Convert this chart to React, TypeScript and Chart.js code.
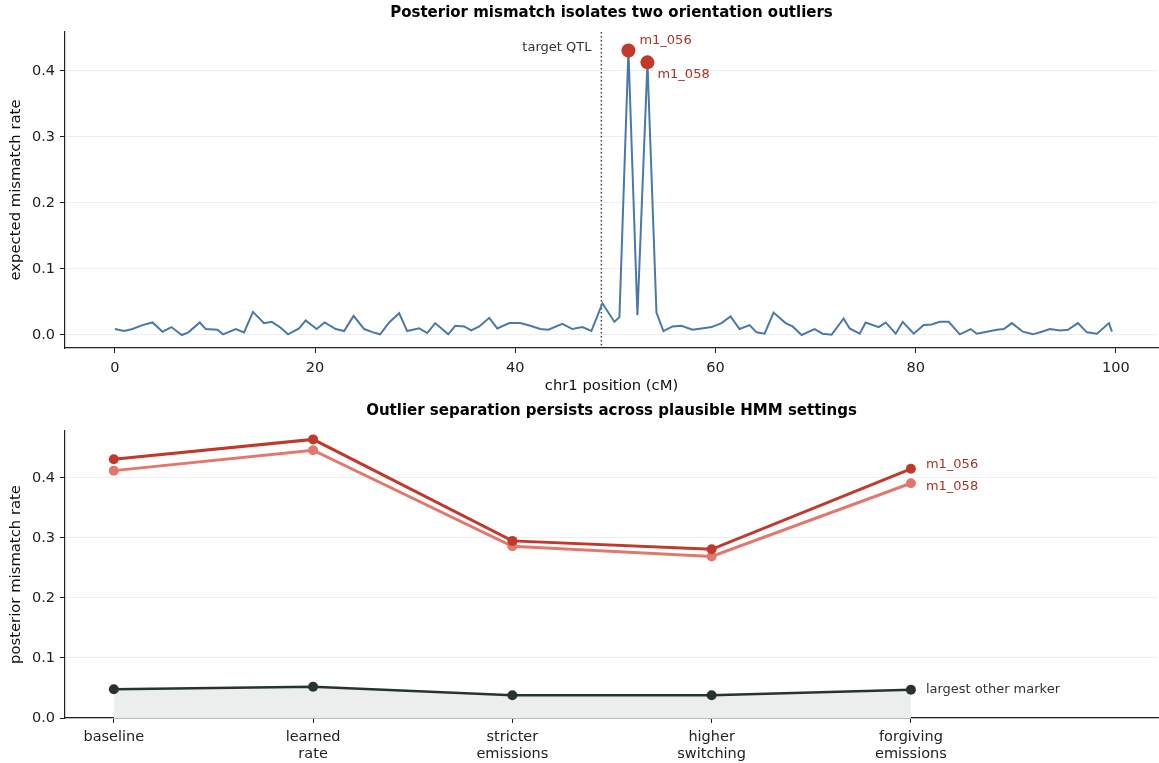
import React, { useEffect, useRef } from 'react';
import { Chart, registerables } from 'chart.js';

Chart.register(...registerables);

const FONT = '"DejaVu Sans", "Liberation Sans", sans-serif';

// ---------- Top panel data: chr1 marker positions (cM) and expected mismatch rate ----------
const positionsCM = [
  0, 0.93, 1.76, 2.76, 3.76, 4.76, 5.65, 6.68, 7.35, 8.48, 9.08, 10.25, 10.8, 12.08, 12.9, 13.8, 14.9, 15.67, 16.57, 17.3,
  18.4, 19.06, 20.16, 20.96, 22.06, 22.9, 23.85, 24.9, 25.8, 26.5, 27.4, 28.4, 29.2, 30.4, 31.2, 32.0, 33.3, 34.0, 34.9, 35.6,
  36.4, 37.4, 38.2, 39.4, 40.5, 41.5, 42.5, 43.3, 44.7, 45.7, 46.7, 47.6, 48.7, 49.9, 50.4, 51.3, 52.2, 53.2, 54.1, 54.8,
  55.7, 56.6, 57.7, 58.6, 59.6, 60.6, 61.5, 62.4, 63.4, 64.1, 64.9, 65.8, 67.0, 67.7, 68.6, 69.9, 70.7, 71.6, 72.8, 73.4,
  74.4, 75.0, 76.3, 77.0, 78.0, 78.7, 79.8, 80.8, 81.6, 82.4, 83.3, 84.4, 85.5, 86.1, 87.1, 88.1, 88.8, 89.6, 90.7, 91.7,
  92.6, 93.4, 94.4, 95.2, 96.2, 97.1, 98.1, 99.3, 99.6,
];
const mismatchRates = [
  0.009, 0.006, 0.009, 0.015, 0.019, 0.005, 0.012, 0.0, 0.004, 0.019, 0.009, 0.008, 0.001, 0.009, 0.004, 0.035, 0.018, 0.020, 0.011, 0.001,
  0.010, 0.022, 0.009, 0.019, 0.009, 0.006, 0.029, 0.009, 0.004, 0.001, 0.019, 0.033, 0.006, 0.010, 0.003, 0.018, 0.001, 0.014, 0.013, 0.007,
  0.013, 0.026, 0.010, 0.018, 0.018, 0.014, 0.009, 0.008, 0.017, 0.009, 0.012, 0.006, 0.048, 0.020, 0.027, 0.431, 0.030, 0.413, 0.034, 0.006,
  0.013, 0.014, 0.008, 0.010, 0.012, 0.018, 0.028, 0.009, 0.015, 0.004, 0.002, 0.034, 0.018, 0.013, 0.0, 0.009, 0.002, 0.0005, 0.025, 0.010,
  0.002, 0.019, 0.012, 0.019, 0.002, 0.020, 0.002, 0.015, 0.016, 0.020, 0.020, 0.001, 0.009, 0.002, 0.005, 0.008, 0.009, 0.018, 0.005, 0.001,
  0.005, 0.009, 0.007, 0.008, 0.018, 0.004, 0.002, 0.018, 0.005,
];
const outlierNames = ['m1_056', 'm1_058'];
const outlierIndices = [55, 57];
const targetQTL = 48.6;
const topXTicks = [0, 20, 40, 60, 80, 100];
const topYTicks = [0, 0.1, 0.2, 0.3, 0.4];

// ---------- Bottom panel data: HMM settings sensitivity ----------
const settingLabels = [['baseline'], ['learned', 'rate'], ['stricter', 'emissions'], ['higher', 'switching'], ['forgiving', 'emissions']];
const m1_056Rates = [0.431, 0.464, 0.295, 0.281, 0.415];
const m1_058Rates = [0.412, 0.446, 0.286, 0.269, 0.391];
const largestOtherRates = [0.048, 0.052, 0.038, 0.038, 0.047];
const bottomYTicks = [0, 0.1, 0.2, 0.3, 0.4];

const W = 1159;
const TOP_H = 395;
const BOT_H = 368;

const AXIS = '#222222';
const GRID = '#eeeeee';

const fitX = (h: number) => (s: any) => { s.height = h; s.paddingLeft = 0; s.paddingRight = 0; };
const fitY = (w: number) => (s: any) => { s.width = w; s.paddingTop = 0; s.paddingBottom = 0; };

function TopChart() {
  const ref = useRef<HTMLCanvasElement | null>(null);
  useEffect(() => {
    const textPlugin = {
      id: 'topText',
      beforeDatasetsDraw(chart: any) {
        const { ctx, chartArea } = chart;
        const xs = chart.scales.x;
        const px = xs.getPixelForValue(targetQTL);
        ctx.save();
        ctx.strokeStyle = '#444444';
        ctx.lineWidth = 1.5;
        ctx.setLineDash([1.5, 2.5]);
        ctx.beginPath();
        ctx.moveTo(px, chartArea.top);
        ctx.lineTo(px, chartArea.bottom);
        ctx.stroke();
        ctx.restore();
      },
      afterDraw(chart: any) {
        const { ctx, chartArea } = chart;
        const xs = chart.scales.x;
        const ys = chart.scales.y;
        ctx.save();
        ctx.fillStyle = '#000';
        ctx.font = `bold 15px ${FONT}`;
        ctx.textAlign = 'center';
        ctx.textBaseline = 'middle';
        const cx = (chartArea.left + chartArea.right) / 2;
        ctx.fillText('Posterior mismatch isolates two orientation outliers', cx, 13);
        ctx.font = `14.8px ${FONT}`;
        ctx.fillStyle = '#111';
        ctx.fillText('chr1 position (cM)', cx, 386);
        ctx.save();
        ctx.translate(16, (chartArea.top + chartArea.bottom) / 2);
        ctx.rotate(-Math.PI / 2);
        ctx.fillText('expected mismatch rate', 0, 0);
        ctx.restore();
        const qx = xs.getPixelForValue(targetQTL);
        ctx.font = `13px ${FONT}`;
        ctx.fillStyle = '#333';
        ctx.textAlign = 'right';
        ctx.fillText('target QTL', qx - 10, 48);
        ctx.fillStyle = '#a93226';
        ctx.textAlign = 'left';
        const offs = [[11, -10], [10, 12]];
        outlierIndices.forEach((idx, k) => {
          const x = xs.getPixelForValue(positionsCM[idx]);
          const y = ys.getPixelForValue(mismatchRates[idx]);
          ctx.fillText(outlierNames[k], x + offs[k][0], y + offs[k][1]);
        });
        ctx.restore();
      },
    };

    const chart = new Chart(ref.current as HTMLCanvasElement, {
      type: 'line',
      data: {
        datasets: [
          {
            data: outlierIndices.map((i) => ({ x: positionsCM[i], y: mismatchRates[i] })),
            showLine: false,
            pointRadius: 7,
            pointBackgroundColor: '#c0392b',
            pointBorderWidth: 0,
            order: 0,
          } as any,
          {
            data: positionsCM.map((x, i) => ({ x, y: mismatchRates[i] })),
            borderColor: '#4a78a8',
            borderWidth: 2,
            pointRadius: 0,
            tension: 0,
            order: 1,
          },
        ],
      },
      options: {
        responsive: false,
        animation: false,
        devicePixelRatio: 1,
        layout: { autoPadding: false, padding: { top: 32, right: 1, left: 0, bottom: 0 } },
        plugins: { legend: { display: false }, tooltip: { enabled: false }, title: { display: false } },
        scales: {
          x: {
            type: 'linear',
            min: -4.98,
            max: 104.2,
            afterBuildTicks: (s: any) => { s.ticks = topXTicks.map((v) => ({ value: v })); },
            afterFit: fitX(47),
            ticks: { font: { family: FONT, size: 14.5 }, color: AXIS, padding: 7, maxRotation: 0, callback: (v: any) => String(v) },
            grid: { drawOnChartArea: false, drawTicks: true, tickLength: 5, tickColor: AXIS, tickWidth: 1 },
            border: { display: true, color: AXIS, width: 1.2 },
          },
          y: {
            type: 'linear',
            min: -0.0197,
            max: 0.459,
            afterBuildTicks: (s: any) => { s.ticks = topYTicks.map((v) => ({ value: v })); },
            afterFit: fitY(65),
            ticks: { font: { family: FONT, size: 14.5 }, color: AXIS, padding: 5, callback: (v: any) => Number(v).toFixed(1) },
            grid: { color: GRID, lineWidth: 1, drawTicks: true, tickLength: 5, tickColor: AXIS },
            border: { display: true, color: AXIS, width: 1.2 },
          },
        },
      } as any,
      plugins: [textPlugin],
    });
    return () => chart.destroy();
  }, []);
  return <canvas ref={ref} width={W} height={TOP_H} style={{ position: 'absolute', left: 0, top: 0, width: W, height: TOP_H }} />;
}

function BottomChart() {
  const ref = useRef<HTMLCanvasElement | null>(null);
  useEffect(() => {
    const textPlugin = {
      id: 'bottomText',
      afterDraw(chart: any) {
        const { ctx, chartArea } = chart;
        const xs = chart.scales.x;
        const ys = chart.scales.y;
        ctx.save();
        ctx.fillStyle = '#000';
        ctx.font = `bold 15px ${FONT}`;
        ctx.textAlign = 'center';
        ctx.textBaseline = 'middle';
        const cx = (chartArea.left + chartArea.right) / 2;
        ctx.fillText('Outlier separation persists across plausible HMM settings', cx, 16);
        ctx.font = `14.8px ${FONT}`;
        ctx.fillStyle = '#111';
        ctx.save();
        ctx.translate(16, (chartArea.top + chartArea.bottom) / 2);
        ctx.rotate(-Math.PI / 2);
        ctx.fillText('posterior mismatch rate', 0, 0);
        ctx.restore();
        const last = settingLabels.length - 1;
        const lx = xs.getPixelForValue(last) + 15;
        ctx.textAlign = 'left';
        ctx.font = `13px ${FONT}`;
        ctx.fillStyle = '#a93226';
        ctx.fillText('m1_056', lx, ys.getPixelForValue(m1_056Rates[last]) - 4);
        ctx.fillText('m1_058', lx, ys.getPixelForValue(m1_058Rates[last]) + 3);
        ctx.fillStyle = '#333';
        ctx.fillText('largest other marker', lx, ys.getPixelForValue(largestOtherRates[last]));
        ctx.restore();
      },
    };

    const chart = new Chart(ref.current as HTMLCanvasElement, {
      type: 'line',
      data: {
        datasets: [
          {
            data: m1_056Rates.map((y, i) => ({ x: i, y })),
            borderColor: '#c0392b',
            backgroundColor: '#c0392b',
            pointBackgroundColor: '#c0392b',
            borderWidth: 3,
            pointRadius: 5,
            pointBorderWidth: 0,
            order: 0,
          },
          {
            data: m1_058Rates.map((y, i) => ({ x: i, y })),
            borderColor: '#e2786d',
            backgroundColor: '#e2786d',
            pointBackgroundColor: '#e2786d',
            borderWidth: 3,
            pointRadius: 5,
            pointBorderWidth: 0,
            order: 1,
          },
          {
            data: largestOtherRates.map((y, i) => ({ x: i, y })),
            borderColor: '#263430',
            pointBackgroundColor: '#263430',
            backgroundColor: '#eceeed',
            fill: 'origin',
            borderWidth: 2.5,
            pointRadius: 5,
            pointBorderWidth: 0,
            order: 2,
          },
        ],
      },
      options: {
        responsive: false,
        animation: false,
        devicePixelRatio: 1,
        layout: { autoPadding: false, padding: { top: 36, right: 1, left: 0, bottom: 0 } },
        plugins: { legend: { display: false }, tooltip: { enabled: false }, title: { display: false } },
        scales: {
          x: {
            type: 'linear',
            min: -0.245,
            max: 5.24,
            afterBuildTicks: (s: any) => { s.ticks = settingLabels.map((_, i) => ({ value: i })); },
            afterFit: fitX(45),
            ticks: {
              font: { family: FONT, size: 14.5, lineHeight: 1.15 },
              color: AXIS,
              padding: 6,
              maxRotation: 0,
              autoSkip: false,
              callback: (v: any) => settingLabels[Math.round(Number(v))] || '',
            },
            grid: { drawOnChartArea: false, drawTicks: true, tickLength: 5, tickColor: AXIS, tickWidth: 1 },
            border: { display: true, color: AXIS, width: 1.2 },
          },
          y: {
            type: 'linear',
            min: 0,
            max: 0.478,
            afterBuildTicks: (s: any) => { s.ticks = bottomYTicks.map((v) => ({ value: v })); },
            afterFit: fitY(65),
            ticks: { font: { family: FONT, size: 14.5 }, color: AXIS, padding: 5, callback: (v: any) => Number(v).toFixed(1) },
            grid: { color: GRID, lineWidth: 1, drawTicks: true, tickLength: 5, tickColor: AXIS },
            border: { display: true, color: AXIS, width: 1.2 },
          },
        },
      } as any,
      plugins: [textPlugin],
    });
    return () => chart.destroy();
  }, []);
  return <canvas ref={ref} width={W} height={BOT_H} style={{ position: 'absolute', left: 0, top: TOP_H, width: W, height: BOT_H }} />;
}

export default function App() {
  return (
    <div style={{ position: 'absolute', left: 0, top: 0, width: W, height: TOP_H + BOT_H, background: '#fff' }}>
      <TopChart />
      <BottomChart />
    </div>
  );
}
